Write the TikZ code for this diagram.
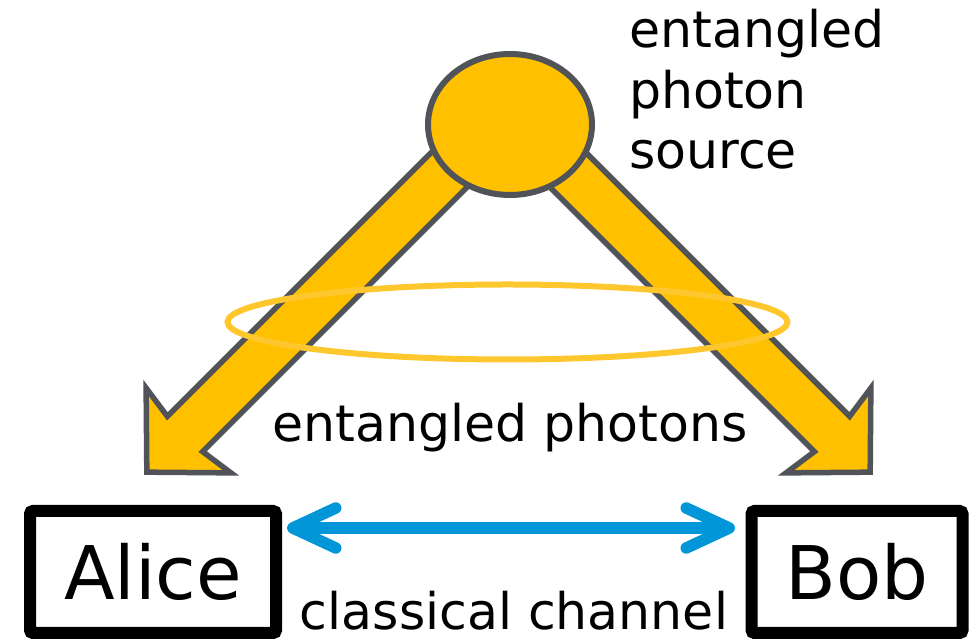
\documentclass[tikz,border=0pt]{standalone}
\usepackage{fontspec}
\setmainfont{DejaVu Sans}
\usetikzlibrary{shapes.geometric,arrows.meta,backgrounds}
\definecolor{amber}{HTML}{FFC000}
\definecolor{edgegray}{HTML}{505357}
\definecolor{ringyellow}{HTML}{FFC72E}
\definecolor{chanblue}{HTML}{0096D8}
\begin{document}
\begin{tikzpicture}[x=1pt,y=1pt,
  photonarrow/.style={fill=amber,draw=edgegray,line width=5.5pt,line join=miter},
  sourcenode/.style={ellipse,fill=amber,draw=edgegray,line width=6pt,inner sep=0pt},
  smalltext/.style={font=\fontsize{50.5}{60.7}\selectfont,inner sep=0pt},
  partybox/.style={draw=black,line width=12pt,rounded corners=3pt,minimum height=122pt,
    inner sep=0pt,font=\fontsize{74}{80}\selectfont},
  channel/.style={draw=chanblue,line width=11.5pt,
    {Straight Barb[length=43pt,width=40pt,round]}-{Straight Barb[length=43pt,width=40pt,round]}}
]
\useasboundingbox (0,0) rectangle (977,639);

% entangled photon source
\node[sourcenode,minimum width=164pt,minimum height=141pt] (source) at (510,514.5) {};

% photon arrows behind the source
\begin{scope}[on background layer]
  \coordinate (tipA) at (144,164);
  \coordinate (tipB) at (873,164);
  \begin{scope}[shift={(tipA)},rotate=45]
    \draw[photonarrow] (4,0) -- (63,60) -- (58,25) -- (515,25) -- (515,-25) -- (58,-25) -- (63,-60) -- cycle;
  \end{scope}
  \begin{scope}[shift={(tipB)},rotate=135]
    \draw[photonarrow] (4,0) -- (63,60) -- (58,25) -- (515,25) -- (515,-25) -- (58,-25) -- (63,-60) -- cycle;
  \end{scope}
\end{scope}

% entanglement ring
\draw[ringyellow,line width=6pt] (507.5,317) ellipse [x radius=280, y radius=37.5];

% labels
\node[smalltext,align=left,anchor=north west] (srclabel) at (629,630) {entangled\\photon\\source};
\node[smalltext,anchor=base] (photonslabel) at (510,197.5) {entangled photons};
\node[smalltext,anchor=base] (channellabel) at (514,9) {classical channel};

% parties
\node[partybox,minimum width=246pt] (alice) at (153,67) {Alice};
\node[partybox,minimum width=211pt] (bob) at (857,67) {Bob};

% classical channel
\draw[channel] ([xshift=5pt,yshift=-23pt]alice.north east) -- ([xshift=-10.5pt,yshift=-23pt]bob.north west);
\end{tikzpicture}
\end{document}
